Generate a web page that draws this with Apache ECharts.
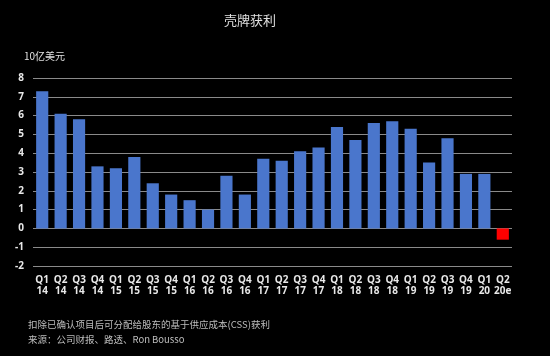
<!DOCTYPE html>
<html>
<head>
<meta charset="utf-8">
<script src="https://cdn.jsdelivr.net/npm/echarts@6/dist/echarts.min.js"></script>
<style>
html,body{margin:0;padding:0;background:#000;}
#c{width:550px;height:356px;}
</style>
</head>
<body>
<div id="c"></div>
<script>
var categories = ['Q1\n14','Q2\n14','Q3\n14','Q4\n14','Q1\n15','Q2\n15','Q3\n15','Q4\n15','Q1\n16','Q2\n16','Q3\n16','Q4\n16','Q1\n17','Q2\n17','Q3\n17','Q4\n17','Q1\n18','Q2\n18','Q3\n18','Q4\n18','Q1\n19','Q2\n19','Q3\n19','Q4\n19','Q1\n20','Q2\n20e'];
var profits = [7.3,6.1,5.8,3.3,3.2,3.8,2.4,1.8,1.5,1.0,2.8,1.8,3.7,3.6,4.1,4.3,5.4,4.7,5.6,5.7,5.3,3.5,4.8,2.9,2.9,-0.6];
var estimateIndex = 25;
var yTicks = {min:-2, max:8, interval:1};

var cjk = '"Noto Sans CJK SC", "Noto Sans", sans-serif';
var chart = echarts.init(document.getElementById('c'), null, {renderer:'canvas'});
chart.setOption({
  backgroundColor:'#000',
  animation:false,
  title:{
    text:'壳牌获利', left:219, top:9,
    textStyle:{color:'#e0e0e0', fontSize:13, fontWeight:'normal', fontFamily:cjk}
  },
  grid:{left:33, right:38, top:78, bottom:90, containLabel:false},
  xAxis:{
    type:'category', data:categories,
    axisLine:{show:false}, axisTick:{show:false},
    axisLabel:{color:'#e8e8e8', fontSize:10, fontWeight:'bold', fontFamily:'"Open Sans", sans-serif', lineHeight:11.5, margin:8, interval:0}
  },
  yAxis:{
    type:'value', min:yTicks.min, max:yTicks.max, interval:yTicks.interval,
    axisLine:{show:false}, axisTick:{show:false},
    axisLabel:{color:'#e8e8e8', fontSize:10, fontWeight:'bold', fontFamily:'"Open Sans", sans-serif', margin:9},
    splitLine:{lineStyle:{color:'#8a8a8a', width:1}}
  },
  series:[{
    type:'bar',
    data:profits.map(function(v,i){
      return {value:v, itemStyle:{color: i===estimateIndex ? '#ff0000' : '#4a76cc'}};
    }),
    barCategoryGap:'34%'
  }],
  graphic:[
    {type:'text', left:24, top:51, style:{text:'10亿美元', fill:'#e0e0e0', fontSize:10, fontFamily:cjk}},
    {type:'text', left:28, top:320, style:{text:'扣除已确认项目后可分配给股东的基于供应成本(CSS)获利', fill:'#bdbdbd', fontSize:9.5, fontFamily:cjk}},
    {type:'text', left:28, top:335, style:{text:'来源：公司财报、路透、Ron Bousso', fill:'#bdbdbd', fontSize:9.5, fontFamily:cjk}}
  ]
});
</script>
</body>
</html>
